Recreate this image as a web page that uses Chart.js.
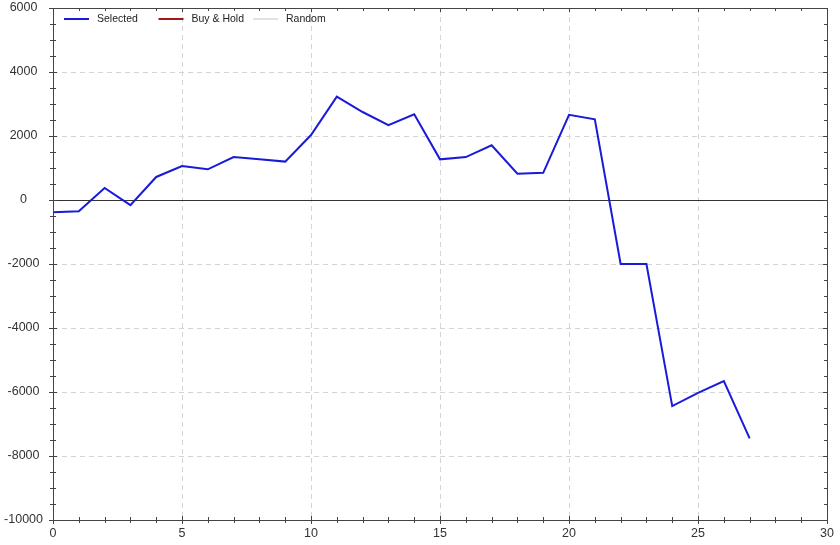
<!DOCTYPE html>
<html>
<head>
<meta charset="utf-8">
<script src="https://cdn.jsdelivr.net/npm/chart.js@4/dist/chart.umd.min.js"></script>
<style>
html,body{margin:0;padding:0;background:#fff;}
#wrap{width:840px;height:545px;position:relative;}
</style>
</head>
<body>
<div id="wrap"><canvas id="c" width="840" height="545"></canvas></div>
<script>
const xValues = [0,1,2,3,4,5,6,7,8,9,10,11,12,13,14,15,16,17,18,19,20,21,22,23,24,25,26,27];
const selectedValues = [-380,-350,375,-160,720,1060,960,1340,1270,1200,2030,3230,2750,2340,2680,1270,1340,1710,820,850,2660,2520,-2000,-2000,-6440,-6030,-5660,-7450];
const buyHoldValues = [];
const randomValues = [];
const seriesNames = ['Selected','Buy & Hold','Random'];
const xTickStep = 5, yTickStep = 2000;

const fontFamily = 'Arial, "Liberation Sans", sans-serif';

const framePlugin = {
  id: 'frame',
  beforeDatasetsDraw(chart) {
    const {ctx, chartArea: a, scales: {y}} = chart;
    ctx.save();
    ctx.strokeStyle = '#333';
    ctx.lineWidth = 1;
    const y0 = Math.round(y.getPixelForValue(0)) + 0.5;
    ctx.beginPath(); ctx.moveTo(a.left, y0); ctx.lineTo(a.right, y0); ctx.stroke();
    ctx.restore();
  },
  afterDraw(chart) {
    const {ctx, chartArea: a, scales: {x, y}} = chart;
    ctx.save();
    ctx.strokeStyle = '#444';
    ctx.lineWidth = 1;
    ctx.strokeRect(Math.round(a.left)+0.5, Math.round(a.top)+0.5, Math.round(a.right-a.left), Math.round(a.bottom-a.top));
    ctx.beginPath();
    for (let v = x.min; v <= x.max; v += 1) {
      const px = Math.round(x.getPixelForValue(v)) + 0.5;
      const len = (v % 5 === 0) ? 4 : 3;
      ctx.moveTo(px, a.bottom - len); ctx.lineTo(px, a.bottom + len);
      ctx.moveTo(px, a.top); ctx.lineTo(px, a.top + len);
    }
    for (let v = y.min; v <= y.max; v += 500) {
      const py = Math.round(y.getPixelForValue(v)) + 0.5;
      const len = (v % 2000 === 0) ? 4 : 3;
      ctx.moveTo(a.left - len, py); ctx.lineTo(a.left + len, py);
      ctx.moveTo(a.right - len, py); ctx.lineTo(a.right, py);
    }
    ctx.stroke();
    // legend
    ctx.font = '10.5px ' + fontFamily;
    ctx.textBaseline = 'middle';
    ctx.textAlign = 'left';
    let lx = a.left + 11;
    const ly = a.top + 11;
    chart.data.datasets.forEach(d => {
      ctx.strokeStyle = d.borderColor;
      ctx.lineWidth = 2;
      ctx.beginPath(); ctx.moveTo(lx, ly); ctx.lineTo(lx + 25, ly); ctx.stroke();
      ctx.fillStyle = '#222';
      ctx.fillText(d.label, lx + 33, ly);
      lx += 94.5;
    });
    ctx.restore();
  }
};

const font = {family: fontFamily, size: 12.5};

new Chart(document.getElementById('c'), {
  type: 'line',
  data: {
    datasets: [
      {label: seriesNames[0], data: xValues.map((v,i)=>({x:v, y:selectedValues[i]})), borderColor: '#1a1ad8', backgroundColor: '#1a1ad8', borderWidth: 2, pointRadius: 0, tension: 0},
      {label: seriesNames[1], data: buyHoldValues, borderColor: '#a01818', backgroundColor: '#a01818', borderWidth: 2, pointRadius: 0},
      {label: seriesNames[2], data: randomValues, borderColor: '#e2e2e2', backgroundColor: '#e2e2e2', borderWidth: 2, pointRadius: 0}
    ]
  },
  options: {
    responsive: false,
    animation: false,
    layout: {padding: {left: 0, right: 12, top: 8, bottom: 0}},
    plugins: {
      legend: {display: false},
      tooltip: {enabled: false}
    },
    scales: {
      x: {
        type: 'linear', min: 0, max: 30,
        ticks: {stepSize: xTickStep, font: font, color: '#333', padding: 6, maxRotation: 0},
        grid: {color: ctx => (ctx.tick && ctx.tick.value > 0 && ctx.tick.value < 30) ? '#d4d4d4' : 'rgba(0,0,0,0)', drawTicks: false},
        border: {display: false, dash: [5,4]},
        afterFit(s) { s.height = 25; }
      },
      y: {
        min: -10000, max: 6000,
        ticks: {stepSize: yTickStep, font: font, color: '#333', padding: 10, crossAlign: 'center', callback: v => String(v)},
        grid: {color: ctx => (ctx.tick && ctx.tick.value > -10000 && ctx.tick.value < 6000 && ctx.tick.value !== 0) ? '#d4d4d4' : 'rgba(0,0,0,0)', drawTicks: false},
        border: {display: false, dash: [5,4]},
        afterFit(s) { s.width = 53; s.paddingTop = 0; s.paddingBottom = 0; }
      }
    }
  },
  plugins: [framePlugin]
});
</script>
</body>
</html>
